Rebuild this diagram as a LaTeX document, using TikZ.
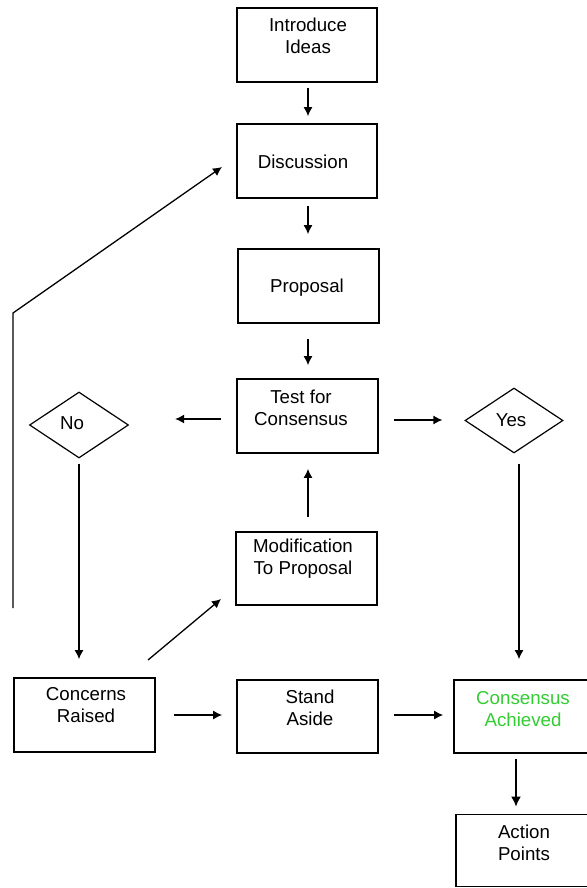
\documentclass[tikz,border=0pt]{standalone}
\usepackage{fontspec}
\setmainfont{Liberation Sans}
\usetikzlibrary{arrows.meta,shapes.geometric}
\definecolor{okgreen}{RGB}{51,204,51}
\begin{document}
\begin{tikzpicture}[x=1pt,y=-1pt,
  box/.style={draw=black,line width=1.7pt,rectangle,inner sep=0pt},
  dia/.style={draw=black,line width=1.2pt,diamond,inner sep=0pt},
  lbl/.style={align=center,inner sep=0pt,font=\fontsize{18.7}{22}\selectfont},
  arr/.style={line width=1.3pt,-{Latex[length=9pt,width=9pt]}},
  plain/.style={line width=1.3pt}]
\useasboundingbox (0,0) rectangle (586,888);
\fill[white] (0,0) rectangle (586,888);
% boxes
\node[box,minimum width=140pt,minimum height=74pt] (intro) at (307,45) {};
\node[box,minimum width=140pt,minimum height=74pt] (disc) at (307,161) {};
\node[box,minimum width=141pt,minimum height=74pt] (prop) at (308.5,286) {};
\node[box,minimum width=141pt,minimum height=74pt] (test) at (307.5,416) {};
\node[box,minimum width=141pt,minimum height=73pt] (mod) at (306.5,568.5) {};
\node[box,minimum width=141pt,minimum height=74pt] (conc) at (84.5,715) {};
\node[box,minimum width=141pt,minimum height=73pt] (stand) at (307.5,716.5) {};
\node[box,minimum width=138pt,minimum height=73pt] (cons) at (523,716.5) {};
\node[box,minimum width=138pt,minimum height=72pt] (act) at (525,850.5) {};
% diamonds
\node[dia,minimum width=99pt,minimum height=66pt] (no) at (79,425) {};
\node[dia,minimum width=98pt,minimum height=65pt] (yes) at (514,420.5) {};
% labels
\node[lbl] (tintro) at (308,36) {Introduce\\Ideas};
\node[lbl] (tdisc) at (303,162) {Discussion};
\node[lbl] (tprop) at (307,288) {Proposal};
\node[lbl] (ttest) at (301,407.5) {Test for\\Consensus};
\node[lbl] (tmod) at (303,559) {Modification\\To Proposal};
\node[lbl] (tconc) at (86,705.5) {Concerns\\Raised};
\node[lbl] (tstand) at (310,708) {Stand\\Aside};
\node[lbl,text=okgreen] (tcons) at (523,709) {Consensus\\Achieved};
\node[lbl] (tact) at (524,842.5) {Action\\Points};
\node[lbl] (tno) at (72,423) {No};
\node[lbl] (tyes) at (511,420) {Yes};
% connectors
\draw[arr,shorten <=5pt,shorten >=7pt] (intro.south -| 308,0) -- (disc.north -| 308,0);
\draw[arr,shorten <=7pt,shorten >=14pt] (disc.south -| 308,0) -- (prop.north -| 308,0);
\draw[arr,shorten <=15pt,shorten >=13pt] (prop.south -| 308,0) -- (test.north -| 308,0);
\draw[arr,shorten <=15pt,shorten >=46pt] (test.west |- 0,419) -- (no.east |- 0,419);
\draw[arr,shorten <=15pt,shorten >=22pt] (test.east |- 0,420) -- (yes.west |- 0,420);
\draw[arr,shorten <=14pt,shorten >=15pt] (mod.north -| 308,0) -- (test.south -| 308,0);
\draw[arr,shorten <=18pt,shorten >=14pt] (conc.east |- 0,715) -- (stand.west |- 0,715);
\draw[arr,shorten <=15pt,shorten >=10pt] (stand.east |- 0,715) -- (cons.west |- 0,715);
\draw[arr,shorten <=5pt,shorten >=18pt] (no.south) -- (no.south |- conc.north);
\draw[arr,shorten <=10pt,shorten >=20pt] (yes.south -| 519,0) -- (cons.north -| 519,0);
\draw[line width=1.8pt,-{Latex[length=10pt,width=10pt]},shorten <=5pt,shorten >=7pt] (cons.south -| 516,0) -- (act.north -| 516,0);
\coordinate (cm1) at (148,660);
\coordinate (cm2) at (221,599);
\draw[arr] (cm1) -- (cm2);
\coordinate (fb1) at (13,608);
\coordinate (fb2) at (13,313);
\coordinate (fb3) at (222,167);
\draw[arr,line join=miter] (fb1) -- (fb2) -- (fb3);
\end{tikzpicture}
\end{document}
